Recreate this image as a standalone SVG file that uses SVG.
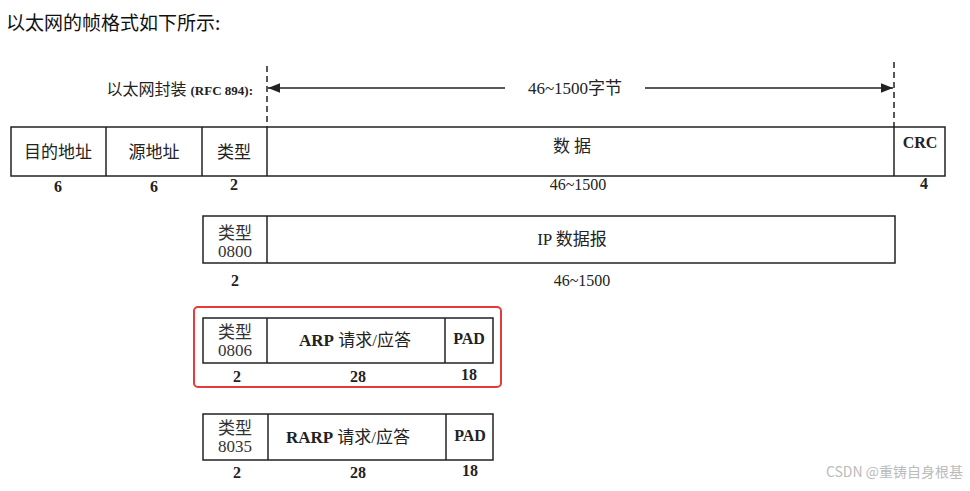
<svg xmlns="http://www.w3.org/2000/svg" width="970" height="491" viewBox="0 0 970 491">
<defs>
<style>
.b{fill:#fff;stroke:#222;stroke-width:1.5}
.l{stroke:#222;stroke-width:1.5;fill:none}
.t{font-family:"Liberation Serif","Noto Sans CJK SC",serif;font-size:17px;fill:#222;text-anchor:middle}
.n{font-family:"Liberation Serif",serif;font-size:16px;font-weight:bold;fill:#222;text-anchor:middle}
.m{font-family:"Liberation Serif",serif;font-size:16px;fill:#222;text-anchor:middle}
.s{font-family:"Liberation Serif","Noto Sans CJK SC",serif;font-size:17px;fill:#333;text-anchor:middle}
</style>
<marker id="a" viewBox="0 0 10 10" refX="10" refY="5" markerWidth="10" markerHeight="8" orient="auto-start-reverse"><path d="M0,1L10,5L0,9z" fill="#222"/></marker>
</defs>
<rect width="970" height="491" fill="#fff"/>
<text x="6" y="30" font-family="Noto Sans CJK SC,sans-serif" font-size="19" fill="#111">以太网的帧格式如下所示:</text>
<g id="header">
<text x="253" y="95" font-family="Liberation Serif,Noto Sans CJK SC,serif" font-size="16" fill="#222" text-anchor="end">以太网封装 <tspan font-weight="bold" font-size="13">(RFC 894):</tspan></text>
</g>
<g id="connectors">
<line class="l" x1="267" y1="66" x2="267" y2="127" stroke-dasharray="6,4"/>
<line class="l" x1="894" y1="62" x2="894" y2="127" stroke-dasharray="6,4"/>
<line class="l" x1="268" y1="88" x2="893" y2="88" marker-start="url(#a)" marker-end="url(#a)"/>
<rect x="505" y="78" width="140" height="20" fill="#fff"/>
<text class="t" x="575" y="94">46~1500字节</text>
</g>
<g id="frame">
<rect class="b" x="11" y="127" width="934" height="49"/>
<line class="l" x1="106" y1="127" x2="106" y2="176"/>
<line class="l" x1="202" y1="127" x2="202" y2="176"/>
<line class="l" x1="267" y1="127" x2="267" y2="176"/>
<line class="l" x1="894" y1="127" x2="894" y2="176"/>
<text class="t" x="58" y="158">目的地址</text>
<text class="t" x="154" y="158">源地址</text>
<text class="t" x="234" y="158">类型</text>
<text class="t" x="572" y="152">数 据</text>
<text class="n" x="920" y="148">CRC</text>
<text class="n" x="58" y="192">6</text>
<text class="n" x="154" y="192">6</text>
<text class="n" x="234" y="190">2</text>
<text class="m" x="578" y="190">46~1500</text>
<text class="n" x="924" y="189">4</text>
</g>
<g id="ip">
<rect class="b" x="203" y="216" width="692" height="47"/>
<line class="l" x1="267" y1="216" x2="267" y2="263"/>
<text class="s" x="235" y="239">类型</text>
<text class="s" x="235" y="257">0800</text>
<text class="t" x="572" y="245">IP 数据报</text>
<text class="n" x="235" y="286">2</text>
<text class="m" x="582" y="286">46~1500</text>
</g>
<g id="arp">
<rect x="194" y="307" width="307" height="80" rx="4" fill="none" stroke="#e83a3a" stroke-width="2"/>
<rect class="b" x="203" y="318" width="290" height="45"/>
<line class="l" x1="267" y1="318" x2="267" y2="363"/>
<line class="l" x1="445" y1="318" x2="445" y2="363"/>
<text class="s" x="235" y="338">类型</text>
<text class="s" x="235" y="356">0806</text>
<text class="t" x="355" y="346"><tspan font-weight="bold">ARP</tspan> 请求/应答</text>
<text class="n" x="469" y="344">PAD</text>
<text class="n" x="237" y="382">2</text>
<text class="n" x="358" y="382">28</text>
<text class="n" x="469" y="380">18</text>
</g>
<g id="rarp">
<rect class="b" x="203" y="414" width="290" height="46"/>
<line class="l" x1="268" y1="414" x2="268" y2="460"/>
<line class="l" x1="446" y1="414" x2="446" y2="460"/>
<text class="s" x="235" y="434">类型</text>
<text class="s" x="235" y="452">8035</text>
<text class="t" x="348" y="443"><tspan font-weight="bold">RARP</tspan> 请求/应答</text>
<text class="n" x="470" y="441">PAD</text>
<text class="n" x="237" y="478">2</text>
<text class="n" x="358" y="478">28</text>
<text class="n" x="470" y="476">18</text>
</g>
<text x="963" y="477" font-family="Noto Sans CJK SC,sans-serif" font-size="14" fill="#bbb" text-anchor="end">CSDN @重铸自身根基</text>
</svg>
